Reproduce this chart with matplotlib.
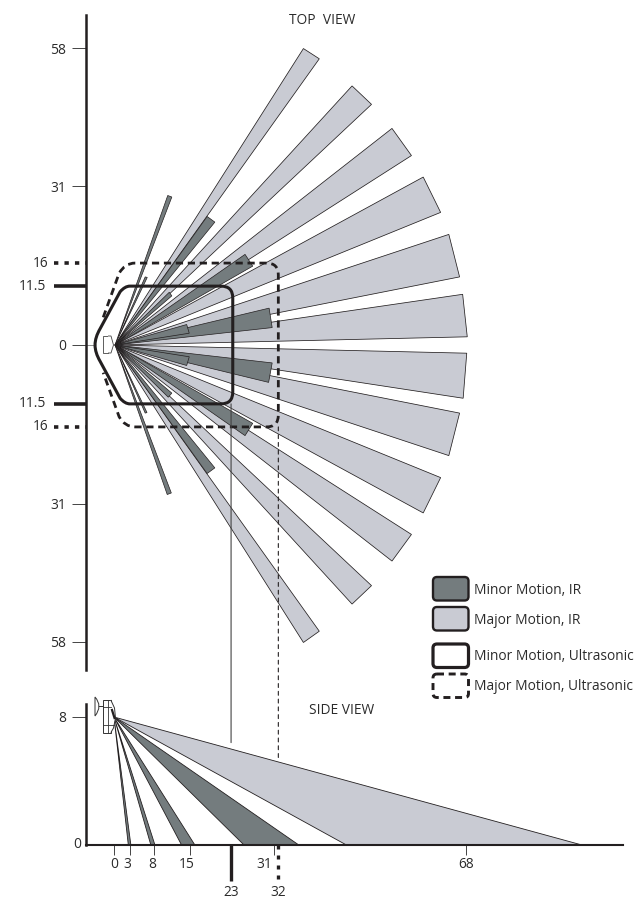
import matplotlib
matplotlib.use("Agg")
import matplotlib.pyplot as plt
from matplotlib.patches import Polygon, FancyBboxPatch, ConnectionPatch, PathPatch
from matplotlib.path import Path

plt.rcParams['font.family'] = ['Open Sans', 'DejaVu Sans']

# ========== data, all in feet ========== #
# far corners of the major IR beams, top view
major_x1 = [36.8, 46.3, 54.1, 60.2, 65.2, 67.9, 68.7, 67.3, 63.6, 57.9, 50.1, 39.9]
major_y1 = [57.9, 50.6, 42.3, 32.8, 21.6, 9.9, -1.6, -13.3, -25.9, -37.0, -47.0, -55.9]
major_x2 = [39.9, 50.1, 57.9, 63.6, 67.3, 68.8, 68.0, 65.2, 60.2, 54.1, 46.3, 36.8]
major_y2 = [55.9, 47.0, 37.0, 25.9, 13.3, 1.6, -10.4, -21.6, -32.8, -42.2, -50.6, -58.1]

# far corners of the minor IR beams, top view
minor_x1 = [10.3, 18.0, 25.4, 30.1, 14.0, 10.6, 5.9, 10.2, 18.0, 25.4, 30.7, 14.5, 11.1, 5.9]
minor_y1 = [29.2, 25.1, 17.7, 7.2, 4.0, 10.3, 13.3, -29.2, -25.1, -17.7, -3.5, -2.3, -9.4, -13.3]
minor_x2 = [11.1, 19.5, 26.9, 30.7, 14.5, 11.1, 6.3, 11.0, 19.5, 26.9, 30.0, 14.0, 10.4, 6.25]
minor_y2 = [28.9, 24.0, 15.4, 3.4, 2.3, 9.6, 13.2, -28.9, -24.0, -15.3, -7.3, -4.0, -10.2, -13.2]

# side view beams, where they hit the floor
side_near = [2.6, 7.0, 13.0, 25.2, 45.2]
side_far = [3.1, 7.8, 15.6, 35.9, 91.2]
side_kind = ["minor", "minor", "minor", "minor", "major"]
mount_height = 8

# axis values
top_ticks = [58, 31, 0, -31, -58]
top_labels = ["58", "31", "0", "31", "58"]
side_ticks = [-0.1, 2.9, 7.6, 14.6, 31.0, 68.6]
side_labels = ["0", "3", "8", "15", "31", "68"]
side_label_x = [-0.1, 2.5, 7.2, 14.0, 29.2, 68.6]
minor_range = 23
major_range = 32
minor_width = 11.5
major_width = 16

legend_names = ["Minor Motion, IR", "Major Motion, IR",
                "Minor Motion, Ultrasonic", "Major Motion, Ultrasonic"]

DARK = "#747c7e"
LIGHT = "#c9cbd3"
INK = "#231f20"
TXT = "#2b2b2b"
FS = 9.9

W, H = 637, 899
SX = 5.12     # pixels per foot
SY = 16.0     # side view height scale
X0 = 115      # pixel of x=0
Y0 = 345      # pixel of y=0 top view
G0 = 845      # pixel of floor
SPLIT = 690

fig = plt.figure(figsize=(W / 100, H / 100), dpi=100)
xlim = (-X0 / SX, (W - X0) / SX)

# ========== top view ========== #
ax = fig.add_axes([0, 1 - SPLIT / H, 1, SPLIT / H])
ax.set_xlim(xlim)
ax.set_ylim((Y0 - SPLIT) / SX, Y0 / SX)
ax.patch.set_visible(False)

for x1, y1, x2, y2 in zip(major_x1, major_y1, major_x2, major_y2):
    ax.add_patch(Polygon([(0, 0), (x1, y1), (x2, y2)], fc=LIGHT, ec=INK, lw=0.55, zorder=2))
for x1, y1, x2, y2 in zip(minor_x1, minor_y1, minor_x2, minor_y2):
    ax.add_patch(Polygon([(0, 0), (x1, y1), (x2, y2)], fc=DARK, ec=INK, lw=0.5, zorder=3))

# ultrasonic outlines
def outline(w, r, hw):
    # right hand rounded box
    return [(w - r, hw), (w, hw), (w, hw - r), (w, -hw + r), (w, -hw), (w - r, -hw)], \
           [Path.LINETO, Path.CURVE3, Path.CURVE3, Path.LINETO, Path.CURVE3, Path.CURVE3]

v, c = outline(minor_range, 2.3, minor_width)
solid = [(-3.9, 0), (-3.9, 1.5), (-2.9, 3.2), (1.0, 10.4), (1.95, minor_width), (2.9, minor_width)] + v + \
        [(2.9, -minor_width), (1.95, -minor_width), (1.0, -10.4), (-2.9, -3.2), (-3.9, -1.5), (-3.9, 0)]
codes = [Path.MOVETO, Path.CURVE3, Path.CURVE3, Path.LINETO, Path.CURVE3, Path.CURVE3] + c + \
        [Path.LINETO, Path.CURVE3, Path.CURVE3, Path.LINETO, Path.CURVE3, Path.CURVE3]
ax.add_patch(PathPatch(Path(solid, codes), fc="none", ec=INK, lw=2.2, zorder=5))

v, c = outline(major_range - 0.1, 2.3, major_width)
dash = [(-2.3, 5.4), (0.8, 14.0), (1.95, major_width), (3.9, major_width)] + v + \
       [(3.9, -major_width), (1.95, -major_width), (0.8, -14.0), (-2.3, -5.4)]
codes = [Path.MOVETO, Path.LINETO, Path.CURVE3, Path.CURVE3] + c + \
        [Path.LINETO, Path.CURVE3, Path.CURVE3, Path.LINETO]
ax.add_patch(PathPatch(Path(dash, codes), fc="none", ec=INK, lw=2.0, ls=(0, (2.6, 1.7)), zorder=5))

for s in ["top", "right", "bottom"]:
    ax.spines[s].set_visible(False)
ax.spines["left"].set_position(("data", (86 - X0) / SX))
ax.spines["left"].set_bounds((Y0 - 670) / SX, (Y0 - 15) / SX)
ax.spines["left"].set_linewidth(1.8)
ax.spines["left"].set_color(INK)
ax.set_xticks([])
ax.set_yticks(top_ticks, top_labels, fontsize=FS, color=TXT)
ax.tick_params(axis="y", length=10, width=0.7, color="#444444", pad=4.5)

# heavier marks for the ultrasonic limits
spine_x = (86 - X0) / SX
for val in [minor_width, -minor_width]:
    ax.plot([(54 - X0) / SX, spine_x], [val, val], color=INK, lw=2.6, solid_capstyle="butt", clip_on=False)
    ax.text((46 - X0) / SX, val, "11.5", ha="right", va="center", fontsize=FS, color=TXT)
for val in [major_width, -major_width]:
    ax.plot([(54 - X0) / SX, spine_x], [val, val], color=INK, lw=2.6, ls=(0, (1.2, 1.7)), clip_on=False)
    ax.text((48 - X0) / SX, val, "16", ha="right", va="center", fontsize=FS, color=TXT)
ax.plot([spine_x, -3.9], [0, 0], color="#777777", lw=0.6, zorder=1)

ax.text((322 - X0) / SX, (Y0 - 20) / SX, "TOP  VIEW", ha="center", va="center", fontsize=FS, color=TXT)

# ========== side view ========== #
bx = fig.add_axes([0, 0, 1, (H - SPLIT) / H])
bx.set_xlim(xlim)
bx.set_ylim((G0 - H) / SY, (G0 - SPLIT) / SY)
bx.patch.set_visible(False)

for near, far, kind in zip(side_near, side_far, side_kind):
    bx.add_patch(Polygon([(-0.2, mount_height), (near, 0), (far, 0)],
                         fc=DARK if kind == "minor" else LIGHT, ec=INK, lw=0.6, zorder=2))

for s in ["top", "right"]:
    bx.spines[s].set_visible(False)
bx.spines["left"].set_position(("data", spine_x))
bx.spines["left"].set_bounds(0, (G0 - 704) / SY)
bx.spines["left"].set_linewidth(1.8)
bx.spines["left"].set_color(INK)
bx.spines["bottom"].set_position(("data", 0))
bx.spines["bottom"].set_bounds(spine_x, (622.7 - X0) / SX)
bx.spines["bottom"].set_linewidth(1.5)
bx.spines["bottom"].set_color(INK)
bx.spines["bottom"].set_zorder(4)
bx.set_xticks(side_ticks, [""] * len(side_ticks))
bx.tick_params(axis="x", length=7.2, width=0.7, color="#444444")
bx.set_yticks([mount_height], ["8"], fontsize=FS, color=TXT)
bx.tick_params(axis="y", length=10, width=0.7, color="#444444", pad=4.5)
bx.text((77 - X0) / SX, 0, "0", ha="center", va="center", fontsize=FS, color=TXT)

for x, lab in zip(side_label_x, side_labels):
    bx.text(x, (G0 - 865) / SY, lab, ha="center", va="center", fontsize=FS, color=TXT)

bx.plot([minor_range - 0.33] * 2, [0, (G0 - 881) / SY], color=INK, lw=2.4, solid_capstyle="butt", clip_on=False)
bx.plot([major_range - 0.1] * 2, [0, (G0 - 881) / SY], color=INK, lw=2.4, ls=(0, (1.2, 1.8)), clip_on=False)
bx.text(minor_range - 0.33, (G0 - 893) / SY, "23", ha="center", va="center", fontsize=FS, color=TXT)
bx.text(major_range - 0.1, (G0 - 893) / SY, "32", ha="center", va="center", fontsize=FS, color=TXT)
bx.text((342 - X0) / SX, (G0 - 710) / SY, "SIDE VIEW", ha="center", va="center", fontsize=FS, color=TXT)

# leader lines joining the two views
fig.add_artist(ConnectionPatch((minor_range - 0.33, -minor_width), (minor_range - 0.33, 6.4),
                               "data", "data", axesA=ax, axesB=bx, color="#444444", lw=0.8))
fig.add_artist(ConnectionPatch((major_range - 0.1, -major_width), (major_range - 0.1, 5.4),
                               "data", "data", axesA=ax, axesB=bx, color=INK, lw=0.8, ls=(0, (3.5, 3.5))))

# ========== overlay in pixels: sensor glyphs and legend ========== #
ov = fig.add_axes([0, 0, 1, 1], zorder=6)
ov.set_xlim(0, W)
ov.set_ylim(H, 0)
ov.axis("off")

# sensor seen from above
ov.add_patch(FancyBboxPatch((103.3, 336), 4.7, 17, boxstyle="square,pad=0", fc="white", ec="#444444", lw=0.6))
ov.add_patch(PathPatch(Path([(108, 336), (111, 336), (113.5, 345), (111, 353), (108, 353)],
                            [Path.MOVETO, Path.LINETO, Path.LINETO, Path.LINETO, Path.LINETO]),
                       fc="white", ec="#444444", lw=0.6))
# sensor seen from the side
ov.add_patch(FancyBboxPatch((103.3, 700), 7.5, 32.7, boxstyle="square,pad=0", fc="white", ec="#333333", lw=0.7))
ov.add_patch(PathPatch(Path([(110.8, 700), (114.5, 708), (115.5, 718), (113.5, 728), (110.8, 732.7)],
                            [Path.MOVETO, Path.LINETO, Path.LINETO, Path.LINETO, Path.LINETO]),
                       fc="white", ec="#333333", lw=0.7))
ov.plot([103.3, 110.8], [706.7, 706.7], color="#333333", lw=0.6)
ov.plot([103.3, 114], [725, 725], color="#333333", lw=0.6)
ov.plot([108, 108], [700, 732.7], color="#333333", lw=0.6)
ov.plot([99, 103.3], [706, 706], color="#333333", lw=0.7)
ov.add_patch(PathPatch(Path([(95, 697), (103, 706), (95, 716), (95, 697)],
                            [Path.MOVETO, Path.CURVE3, Path.CURVE3, Path.CLOSEPOLY]),
                       fc="white", ec="#333333", lw=0.7))
ov.plot([112, 114.5], [710, 718], color=INK, lw=1.6)

# legend
box_y = [577, 607, 644, 674]
text_y = [590, 620.7, 657, 687]
box_fc = [DARK, LIGHT, "white", "white"]
box_lw = [1.7, 1.7, 2.3, 2.1]
box_ls = ["-", "-", "-", (0, (2.4, 1.6))]
for by, ty, name, fc, lw, ls in zip(box_y, text_y, legend_names, box_fc, box_lw, box_ls):
    ov.add_patch(FancyBboxPatch((436, by + 3), 29.5, 17.5, boxstyle="round,pad=3,rounding_size=4",
                                fc=fc, ec=INK, lw=lw, ls=ls))
    ov.text(474, ty, name, ha="left", va="center", fontsize=FS, color=TXT)

fig.savefig("out.png", dpi=100)
